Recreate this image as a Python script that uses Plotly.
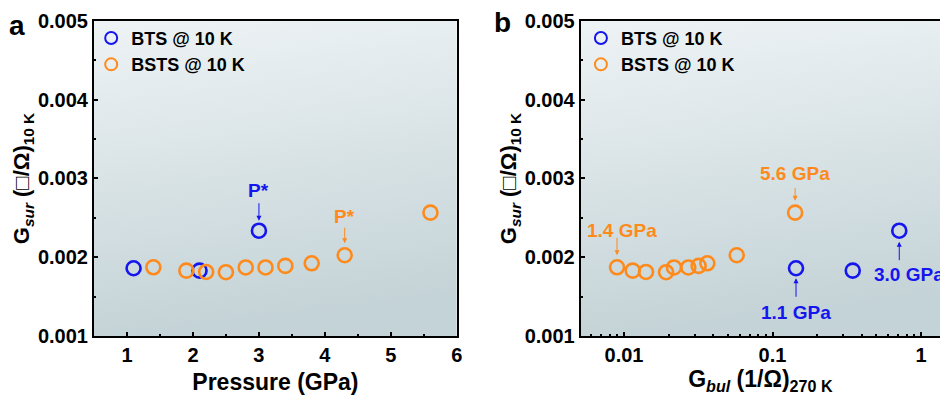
import math
import base64
import plotly.graph_objects as go

# ---- data ----
bts_pressure = [1.1, 2.1, 3.0]
bts_gsur = [0.00186, 0.00183, 0.002337]
bts_gbul = [0.144, 0.347, 0.714]

bsts_pressure = [1.4, 1.9, 2.2, 2.5, 2.8, 3.1, 3.4, 3.8, 4.3, 5.6]
bsts_gsur = [0.001872, 0.00183, 0.001813, 0.00181, 0.00187, 0.00187, 0.00189, 0.001923, 0.002025, 0.002566]
bsts_gbul = [0.00897, 0.01144, 0.01406, 0.0192, 0.0217, 0.0271, 0.0318, 0.0364, 0.0574, 0.142]

y_ticks = [0.001, 0.002, 0.003, 0.004, 0.005]
x_ticks_a = [1, 2, 3, 4, 5, 6]
x_ticks_b = [0.01, 0.1, 1]
x_ticklabels_b = ["0.01", "0.1", "1"]

BLUE = "#1515EE"
ORANGE = "#FF8A1C"
FONT = "Liberation Sans, Arial, sans-serif"

fig = go.Figure()

mk = lambda c: dict(symbol="circle-open", size=14, color=c, line=dict(width=2.6, color=c))

fig.add_trace(go.Scatter(x=bts_pressure, y=bts_gsur, mode="markers", name="BTS @ 10 K",
                         marker=mk(BLUE), xaxis="x", yaxis="y", legend="legend"))
fig.add_trace(go.Scatter(x=bsts_pressure, y=bsts_gsur, mode="markers", name="BSTS @ 10 K",
                         marker=mk(ORANGE), xaxis="x", yaxis="y", legend="legend"))
fig.add_trace(go.Scatter(x=bts_gbul, y=bts_gsur, mode="markers", name="BTS @ 10 K",
                         marker=mk(BLUE), xaxis="x2", yaxis="y2", legend="legend2"))
fig.add_trace(go.Scatter(x=bsts_gbul, y=bsts_gsur, mode="markers", name="BSTS @ 10 K",
                         marker=mk(ORANGE), xaxis="x2", yaxis="y2", legend="legend2"))

# gradient background as an svg image
svg = ('<svg xmlns="http://www.w3.org/2000/svg" width="400" height="400" preserveAspectRatio="none">'
       '<defs><linearGradient id="g" x1="0" y1="0" x2="0.15" y2="1">'
       '<stop offset="0" stop-color="#EEF3F5"/><stop offset="1" stop-color="#C4D3D7"/>'
       '</linearGradient></defs><rect width="400" height="400" fill="url(#g)"/></svg>')
src = "data:image/svg+xml;base64," + base64.b64encode(svg.encode()).decode()

XD_A = [0.1, 0.486]
XD_B = [0.6178, 1.0]
YD = [0.1494, 0.947]
images = []
for xd in (XD_A, XD_B):
    images.append(dict(source=src, xref="paper", yref="paper", x=xd[0], y=YD[1],
                       sizex=xd[1] - xd[0], sizey=YD[1] - YD[0], sizing="stretch",
                       xanchor="left", yanchor="top", layer="below"))

axis_common = dict(showline=True, linecolor="black", linewidth=2, ticks="inside",
                   ticklen=4, tickwidth=2, tickcolor="black", showgrid=False, zeroline=False,
                   automargin=False,
                   tickfont=dict(size=20, family=FONT, color="black", weight="bold"))
minor_lin = lambda d: dict(ticks="inside", ticklen=2, tickwidth=2, dtick=d, tickcolor="black")
ytitle = dict(text="G<sub><i>sur</i></sub> (□/Ω)<sub>10 K</sub>", font=dict(size=22, weight="bold"), standoff=2)

fig.update_layout(
    width=940, height=395,
    margin=dict(l=0, r=0, t=0, b=0, autoexpand=False),
    paper_bgcolor="white", plot_bgcolor="rgba(0,0,0,0)",
    font=dict(family=FONT, color="black", weight="bold"),
    images=images,
    xaxis=dict(domain=XD_A, range=[0.5, 6], tickvals=x_ticks_a, mirror=True, anchor="y",
               minor=minor_lin(0.5),
               title=dict(text="Pressure (GPa)", font=dict(size=23, weight="bold"), standoff=10),
               **axis_common),
    yaxis=dict(domain=YD, range=[0.001, 0.005], tickvals=y_ticks, tickformat=".3f",
               mirror=True, anchor="x", minor=minor_lin(0.0005), title=ytitle, **axis_common),
    xaxis2=dict(domain=XD_B, type="log", range=[-2.2916, 0.128],
                tickvals=x_ticks_b, ticktext=x_ticklabels_b, mirror=True, anchor="y2",
                minor=dict(ticks="inside", ticklen=2, tickwidth=2, tickcolor="black", dtick="D1"),
                title=dict(text="G<sub><i>bul</i></sub> (1/Ω)<sub>270 K</sub>",
                           font=dict(size=23, weight="bold"), standoff=10),
                **axis_common),
    yaxis2=dict(domain=YD, range=[0.001, 0.005], tickvals=y_ticks, tickformat=".3f",
                mirror=False, anchor="x2", minor=minor_lin(0.0005), title=ytitle, **axis_common),
    legend=dict(x=0.097, y=0.95, xanchor="left", yanchor="top", bgcolor="rgba(0,0,0,0)",
                font=dict(size=18, weight="bold"), tracegroupgap=0, itemsizing="constant"),
    legend2=dict(x=0.618, y=0.95, xanchor="left", yanchor="top", bgcolor="rgba(0,0,0,0)",
                 font=dict(size=18, weight="bold"), tracegroupgap=0, itemsizing="constant"),
    showlegend=True,
)

ann = []
ann.append(dict(text="a", x=17 / 940, y=1 - 25 / 395, xref="paper", yref="paper", showarrow=False,
                xanchor="center", yanchor="middle", font=dict(size=28, weight="bold")))
ann.append(dict(text="b", x=502 / 940, y=1 - 23 / 395, xref="paper", yref="paper", showarrow=False,
                xanchor="center", yanchor="middle", font=dict(size=28, weight="bold")))

def label(text, xr, yr, x, y, color, dx=0, dy=0, xanchor="center"):
    return dict(text=text, x=x, y=y, xref=xr, yref=yr, showarrow=False, xshift=dx, yshift=dy,
                xanchor=xanchor, font=dict(size=19, color=color, weight="bold"))

def arrow(xr, yr, x, y, color, ax, ay, ey):
    return dict(text="", x=x, y=y, xref=xr, yref=yr, showarrow=True, arrowhead=2, arrowsize=1,
                arrowwidth=1, arrowcolor=color, ax=ax, ay=ay, yshift=ey, standoff=0, startstandoff=0)

L = math.log10
# panel a
ann.append(label("P*", "x", "y", bts_pressure[2], bts_gsur[2], BLUE, dy=40))
ann.append(arrow("x", "y", bts_pressure[2], bts_gsur[2], BLUE, 0, -19, 10))
ann.append(label("P*", "x", "y", bsts_pressure[8], bsts_gsur[8], ORANGE, dy=39))
ann.append(arrow("x", "y", bsts_pressure[8], bsts_gsur[8], ORANGE, 0, -17, 12))
# panel b (log axis -> annotation x in log10)
ann.append(label("5.6 GPa", "x2", "y2", L(bsts_gbul[9]), bsts_gsur[9], ORANGE, dy=39))
ann.append(arrow("x2", "y2", L(bsts_gbul[9]), bsts_gsur[9], ORANGE, 0, -14, 12))
ann.append(label("1.4 GPa", "x2", "y2", L(bsts_gbul[0]), bsts_gsur[0], ORANGE, dx=5, dy=37))
ann.append(arrow("x2", "y2", L(bsts_gbul[0]), bsts_gsur[0], ORANGE, 0, -19, 12))
ann.append(label("1.1 GPa", "x2", "y2", L(bts_gbul[0]), bts_gsur[0], BLUE, dy=-44))
ann.append(arrow("x2", "y2", L(bts_gbul[0]), bts_gsur[0], BLUE, 0, 20, -10))
ann.append(label("3.0 GPa", "x2", "y2", L(bts_gbul[2]), bts_gsur[2], BLUE, dx=-27, dy=-44, xanchor="left"))
ann.append(arrow("x2", "y2", L(bts_gbul[2]), bts_gsur[2], BLUE, 0, 20, -11))
fig.update_layout(annotations=ann)

fig.write_html("out.html", config={"displayModeBar": False},
               post_script="document.body.style.margin='0';document.body.style.padding='0';")
